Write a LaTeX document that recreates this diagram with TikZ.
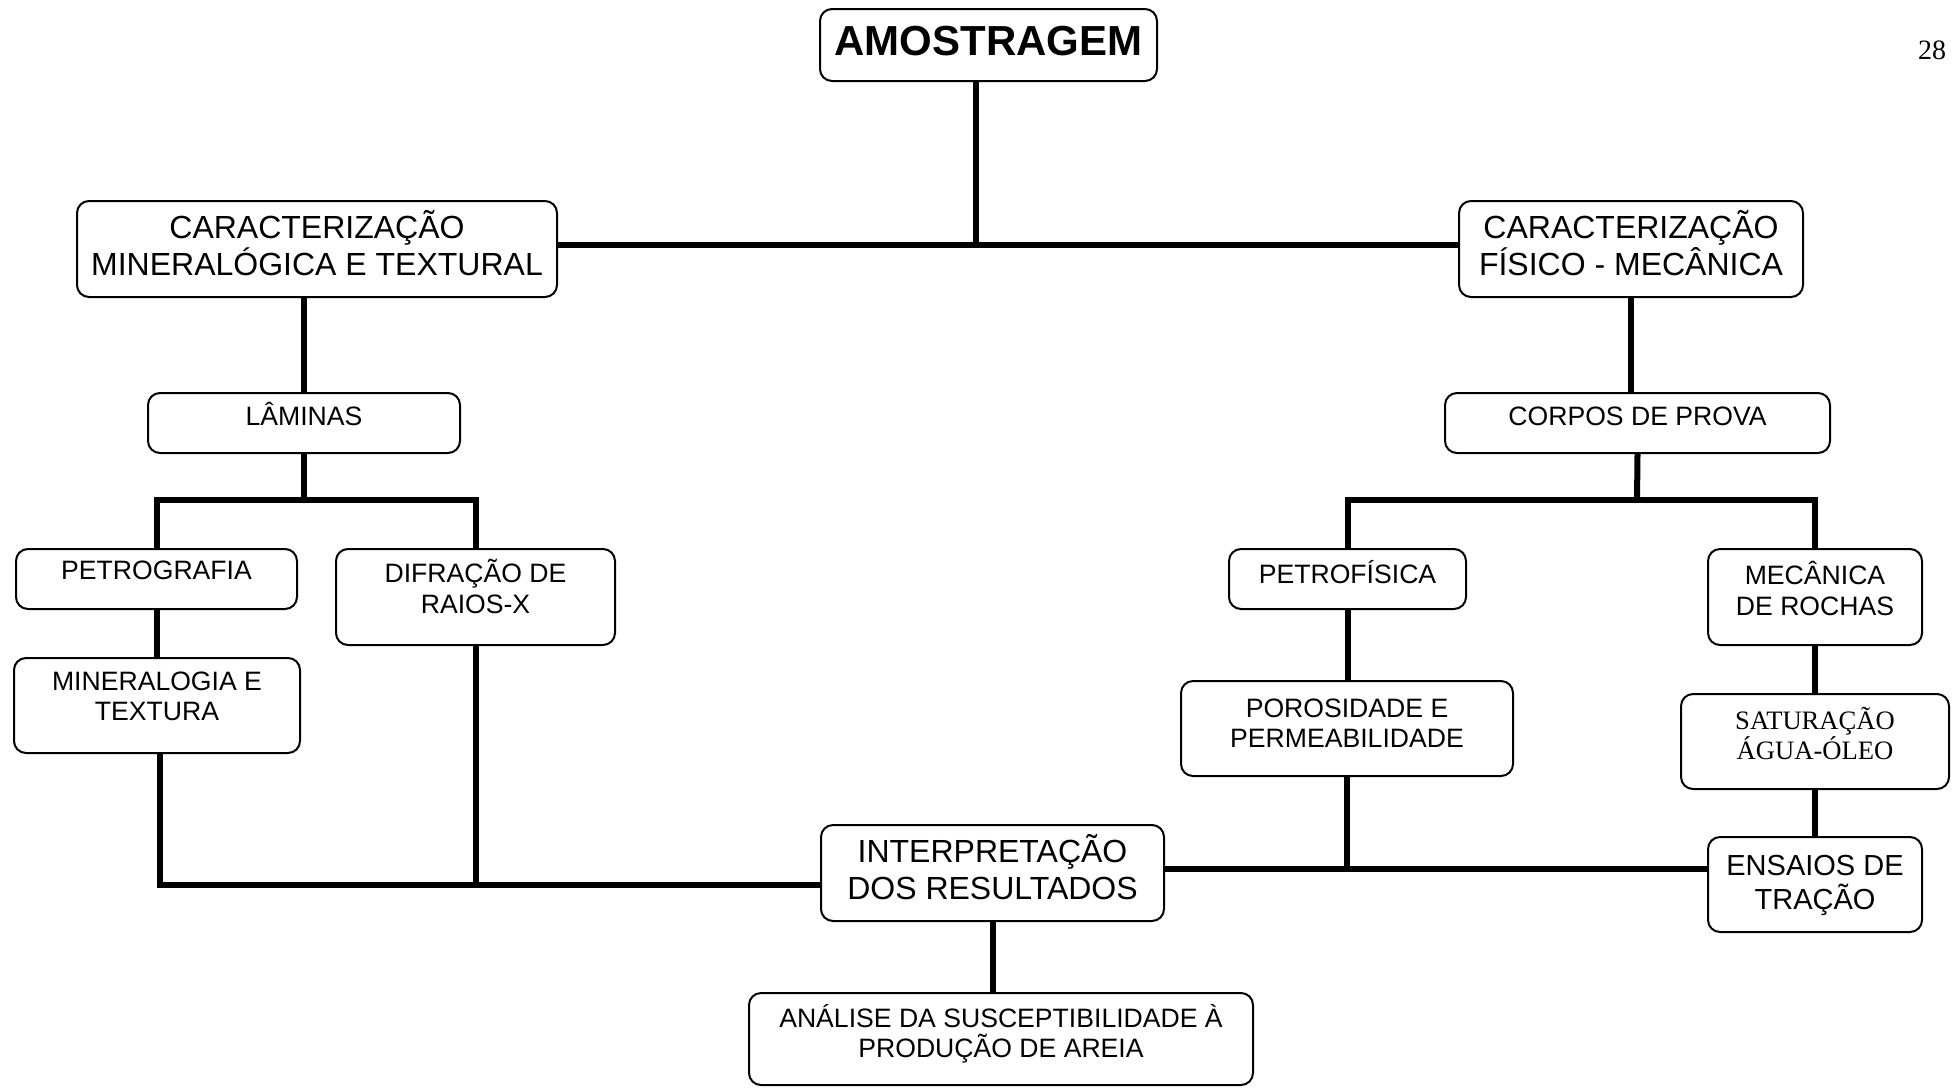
\documentclass[tikz,border=0pt]{standalone}
\usepackage{fontspec}
\setmainfont{Liberation Sans}
\newfontfamily\serifa{Liberation Serif}

\begin{document}
\begin{tikzpicture}[x=0.5pt, y=-0.5pt,
caixa/.style={draw, rounded corners=6pt, line width=1pt, inner sep=0pt},
rotulo/.style={align=center, inner sep=0pt, font=\fontsize{13.3}{15.3}\selectfont},
rotulog/.style={align=center, inner sep=0pt, font=\fontsize{16}{18.7}\selectfont},
liga/.style={line width=3pt}]
\useasboundingbox (0,0) rectangle (1957,1087);

\node[caixa, minimum width=168.5pt, minimum height=36pt] (amo) at (988.5,45) {};
\node[inner sep=0pt, font=\fontsize{21}{24}\selectfont\bfseries] (amot) at ([yshift=2pt]amo.center) {AMOSTRAGEM};
\node[font=\fontsize{14}{16}\selectfont\serifa] (pag) at (1932,50) {28};

\node[caixa, minimum width=240pt, minimum height=48pt] (cmin) at (317,249) {};
\node[rotulog] (cmint) at ([yshift=3pt]cmin.center) {CARACTERIZAÇÃO\\MINERALÓGICA E TEXTURAL};
\node[caixa, minimum width=172pt, minimum height=48pt] (cfis) at (1631,249) {};
\node[rotulog] (cfist) at ([yshift=3pt]cfis.center) {CARACTERIZAÇÃO\\FÍSICO - MECÂNICA};

\node[caixa, minimum width=156pt, minimum height=30pt] (lam) at (304,423) {};
\node[rotulo] (lamt) at ([yshift=4.4pt]lam.center) {LÂMINAS};
\node[caixa, minimum width=192.5pt, minimum height=30pt] (corpos) at (1637.5,423) {};
\node[rotulo] (corpost) at ([yshift=3.3pt]corpos.center) {CORPOS DE PROVA};

\node[caixa, minimum width=140.5pt, minimum height=30pt] (petrog) at (156.5,579) {};
\node[rotulo] (petrogt) at ([yshift=4.4pt]petrog.center) {PETROGRAFIA};
\node[caixa, minimum width=139.5pt, minimum height=48pt] (difr) at (475.5,597) {};
\node[rotulo] (difrt) at ([yshift=5.4pt]difr.center) {DIFRAÇÃO DE\\RAIOS-X};
\node[caixa, minimum width=143pt, minimum height=47.5pt] (minx) at (157,705.5) {};
\node[rotulo] (minxt) at ([yshift=4.6pt]minx.center) {MINERALOGIA E\\TEXTURA};

\node[caixa, minimum width=118.5pt, minimum height=30pt] (petrof) at (1347.5,579) {};
\node[rotulo] (petroft) at ([yshift=3.3pt]petrof.center) {PETROFÍSICA};
\node[caixa, minimum width=107pt, minimum height=48pt] (mecr) at (1815,597) {};
\node[rotulo] (mecrt) at ([yshift=4.2pt]mecr.center) {MECÂNICA\\DE ROCHAS};
\node[caixa, minimum width=166pt, minimum height=47.5pt] (poros) at (1347,728.5) {};
\node[rotulo] (porost) at ([yshift=2.6pt]poros.center) {POROSIDADE E\\PERMEABILIDADE};
\node[caixa, minimum width=134pt, minimum height=47.5pt] (satur) at (1815,741.5) {};
\node[rotulo, font=\fontsize{13.3}{15.3}\selectfont\serifa] (saturt) at ([yshift=4pt]satur.center) {SATURAÇÃO\\ÁGUA-ÓLEO};
\node[caixa, minimum width=107pt, minimum height=47.5pt] (ensaios) at (1815,884.5) {};
\node[rotulo, font=\fontsize{14.5}{17}\selectfont] (ensaiost) at ([yshift=-0.4pt]ensaios.center) {ENSAIOS DE\\TRAÇÃO};

\node[caixa, minimum width=171.5pt, minimum height=48pt] (interp) at (992.5,873) {};
\node[rotulog] (interpt) at ([yshift=2.9pt]interp.center) {INTERPRETAÇÃO\\DOS RESULTADOS};
\node[caixa, minimum width=252pt, minimum height=46pt] (analise) at (1001,1039) {};
\node[rotulo] (analiset) at ([yshift=2.6pt]analise.center) {ANÁLISE DA SUSCEPTIBILIDADE À\\PRODUÇÃO DE AREIA};

\coordinate (jtopo) at (976,245);
\coordinate (garfoE) at (304,500);
\coordinate (garfoD) at (1637,500);
\coordinate (baseE) at (160,885);
\coordinate (baseD) at (1344,869);

\draw[liga] (cmin.east |- jtopo) -- (cfis.west |- jtopo);
\draw[liga] (amo.south -| jtopo) -- (jtopo);
\draw[liga] (cmin.south -| lam) -- (lam.north);
\draw[liga] (cfis.south) -- (cfis.south |- corpos.north);

\draw[liga] (lam.south) -- (garfoE);
\draw[liga] (petrog.north) |- (garfoE) -| (difr.north);
\draw[liga] (petrog.south) -- (petrog.south |- minx.north);
\draw[liga] (minx.south -| baseE) -- (baseE) -- (interp.west |- baseE);
\draw[liga] (difr.south) -- (difr.south |- baseE);

\draw[liga] (corpos.south) -- (garfoD);
\draw[liga] (petrof.north) |- (garfoD) -| (mecr.north);
\draw[liga] (petrof.south) -- (petrof.south |- poros.north);
\draw[liga] (mecr) -- (satur);
\draw[liga] (satur) -- (ensaios);
\draw[liga] (interp.east |- baseD) -- (ensaios.west |- baseD);
\draw[liga] (poros.south) -- (poros.south |- baseD);

\draw[liga] (interp.south) -- (interp.south |- analise.north);
\end{tikzpicture}
\end{document}
